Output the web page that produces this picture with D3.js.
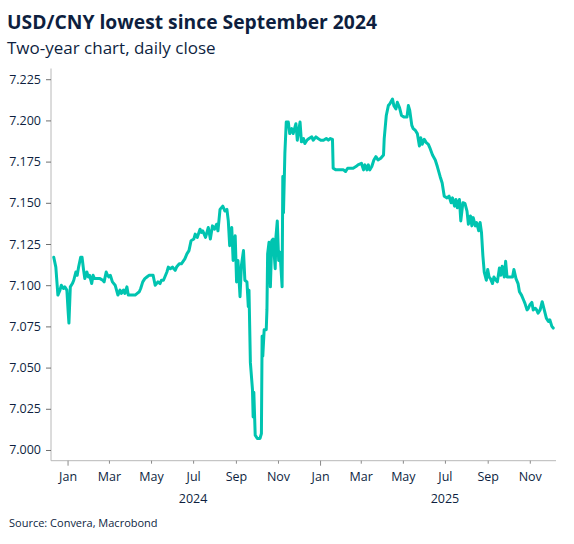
<!DOCTYPE html>
<html>
<head>
<meta charset="utf-8">
<script src="https://cdn.jsdelivr.net/npm/d3@7"></script>
<style>
  body { margin: 0; background: #fff; }
  svg text { font-family: "Open Sans", "Noto Sans", sans-serif; }
</style>
</head>
<body>
<div id="chart"></div>
<script>
var width = 574, height = 544;

// daily close
var dates = [
  "2023-12-12","2023-12-15","2023-12-18","2023-12-21","2023-12-23","2023-12-26","2023-12-28","2023-12-31",
  "2024-01-02","2024-01-03","2024-01-05","2024-01-08","2024-01-10","2024-01-13","2024-01-15","2024-01-17",
  "2024-01-20","2024-01-22","2024-01-24","2024-01-26","2024-01-29","2024-01-31","2024-02-02","2024-02-05",
  "2024-02-07","2024-02-09","2024-02-14","2024-02-17","2024-02-21","2024-02-23","2024-02-26","2024-02-28",
  "2024-03-01","2024-03-03","2024-03-06","2024-03-10","2024-03-12","2024-03-14","2024-03-17","2024-03-19",
  "2024-03-22","2024-03-24","2024-03-27","2024-03-29","2024-04-03","2024-04-08","2024-04-11","2024-04-14",
  "2024-04-16","2024-04-19","2024-04-22","2024-04-25","2024-04-28","2024-05-02","2024-05-04","2024-05-07",
  "2024-05-09","2024-05-11","2024-05-14","2024-05-16","2024-05-19","2024-05-21","2024-05-24","2024-05-26",
  "2024-05-29","2024-06-01","2024-06-05","2024-06-07","2024-06-11","2024-06-14","2024-06-19","2024-06-22",
  "2024-06-25","2024-06-28","2024-07-02","2024-07-04","2024-07-07","2024-07-11","2024-07-13","2024-07-15",
  "2024-07-19","2024-07-23","2024-07-26","2024-07-29","2024-08-01","2024-08-04","2024-08-06","2024-08-09",
  "2024-08-13","2024-08-16","2024-08-19","2024-08-21","2024-08-23","2024-08-26","2024-08-28","2024-08-31",
  "2024-09-02","2024-09-04","2024-09-07","2024-09-09","2024-09-12","2024-09-14","2024-09-17","2024-09-19",
  "2024-09-20","2024-09-22","2024-09-25","2024-09-26","2024-09-27","2024-09-29","2024-10-02","2024-10-06",
  "2024-10-08","2024-10-09","2024-10-10","2024-10-12","2024-10-15","2024-10-16","2024-10-17","2024-10-19",
  "2024-10-21","2024-10-23","2024-10-25","2024-10-28","2024-10-29","2024-10-31","2024-11-02","2024-11-04",
  "2024-11-07","2024-11-08","2024-11-09","2024-11-11","2024-11-13","2024-11-16","2024-11-18","2024-11-21",
  "2024-11-23","2024-11-27","2024-11-29","2024-12-03","2024-12-05","2024-12-08","2024-12-10","2024-12-13",
  "2024-12-16","2024-12-20","2024-12-22","2024-12-26","2024-12-29","2025-01-02","2025-01-06","2025-01-10",
  "2025-01-13","2025-01-16","2025-01-19","2025-01-20","2025-01-24","2025-01-29","2025-02-04","2025-02-07",
  "2025-02-10","2025-02-13","2025-02-18","2025-02-22","2025-02-25","2025-03-02","2025-03-05","2025-03-07",
  "2025-03-10","2025-03-12","2025-03-14","2025-03-17","2025-03-20","2025-03-23","2025-03-26","2025-03-30",
  "2025-04-03","2025-04-04","2025-04-07","2025-04-10","2025-04-12","2025-04-16","2025-04-18","2025-04-21",
  "2025-04-23","2025-04-26","2025-04-29","2025-05-03","2025-05-07","2025-05-09","2025-05-11","2025-05-14",
  "2025-05-16","2025-05-19","2025-05-22","2025-05-25","2025-05-27","2025-05-29","2025-06-01","2025-06-04",
  "2025-06-07","2025-06-09","2025-06-13","2025-06-17","2025-06-20","2025-06-24","2025-06-27","2025-06-30",
  "2025-07-04","2025-07-07","2025-07-10","2025-07-12","2025-07-15","2025-07-17","2025-07-19","2025-07-22",
  "2025-07-24","2025-07-27","2025-07-30","2025-08-02","2025-08-04","2025-08-07","2025-08-09","2025-08-11",
  "2025-08-14","2025-08-16","2025-08-19","2025-08-21","2025-08-23","2025-08-25","2025-08-27","2025-08-30",
  "2025-09-01","2025-09-03","2025-09-05","2025-09-08","2025-09-10","2025-09-13","2025-09-15","2025-09-18",
  "2025-09-20","2025-09-22","2025-09-25","2025-09-27","2025-09-29","2025-10-03","2025-10-07","2025-10-09",
  "2025-10-12","2025-10-15","2025-10-17","2025-10-20","2025-10-23","2025-10-25","2025-10-28","2025-10-30",
  "2025-11-01","2025-11-04","2025-11-06","2025-11-09","2025-11-11","2025-11-13","2025-11-16","2025-11-19",
  "2025-11-22","2025-11-25","2025-11-28","2025-11-30","2025-12-03","2025-12-05"
];

var usdcny = [
  7.117,7.111,7.094,7.097,7.100,7.098,7.099,7.097,
  7.083,7.077,7.099,7.101,7.103,7.108,7.106,7.111,
  7.117,7.117,7.110,7.104,7.108,7.105,7.106,7.101,
  7.106,7.104,7.104,7.104,7.103,7.102,7.108,7.106,
  7.105,7.106,7.102,7.100,7.097,7.094,7.097,7.095,
  7.097,7.095,7.099,7.094,7.094,7.094,7.095,7.096,
  7.098,7.102,7.104,7.105,7.106,7.106,7.106,7.100,
  7.101,7.102,7.101,7.103,7.103,7.105,7.108,7.111,
  7.110,7.111,7.109,7.111,7.113,7.113,7.116,7.119,
  7.121,7.127,7.128,7.131,7.129,7.134,7.132,7.133,
  7.129,7.135,7.128,7.136,7.134,7.137,7.133,7.146,
  7.148,7.145,7.146,7.139,7.124,7.135,7.115,7.130,
  7.102,7.115,7.093,7.112,7.121,7.103,7.102,7.087,
  7.097,7.053,7.037,7.020,7.035,7.009,7.007,7.007,
  7.010,7.069,7.057,7.073,7.073,7.085,7.119,7.126,
  7.099,7.127,7.128,7.110,7.129,7.139,7.115,7.120,
  7.099,7.166,7.144,7.180,7.199,7.199,7.192,7.195,
  7.192,7.198,7.188,7.199,7.187,7.189,7.186,7.188,
  7.189,7.190,7.188,7.190,7.189,7.188,7.188,7.189,
  7.188,7.189,7.1885,7.171,7.170,7.170,7.170,7.169,
  7.171,7.171,7.171,7.172,7.173,7.174,7.170,7.173,
  7.170,7.173,7.170,7.172,7.176,7.178,7.176,7.177,
  7.179,7.189,7.203,7.209,7.210,7.213,7.209,7.207,
  7.211,7.208,7.203,7.202,7.202,7.209,7.206,7.197,
  7.195,7.194,7.192,7.1845,7.1895,7.1855,7.1885,7.1865,
  7.1855,7.1835,7.179,7.176,7.172,7.166,7.162,7.154,
  7.153,7.154,7.150,7.153,7.148,7.152,7.147,7.152,
  7.139,7.150,7.1496,7.145,7.137,7.142,7.136,7.141,
  7.136,7.138,7.133,7.138,7.132,7.118,7.108,7.103,
  7.1095,7.105,7.104,7.101,7.105,7.103,7.102,7.1105,
  7.106,7.1115,7.105,7.1145,7.105,7.105,7.105,7.1095,
  7.104,7.101,7.096,7.094,7.091,7.089,7.085,7.086,
  7.088,7.0896,7.085,7.086,7.085,7.083,7.085,7.090,
  7.085,7.080,7.078,7.079,7.075,7.074
];

var yTicks = [7.000, 7.025, 7.050, 7.075, 7.100, 7.125, 7.150, 7.175, 7.200, 7.225];
var monthTicks = ["2024-01-01","2024-03-01","2024-05-01","2024-07-01","2024-09-01","2024-11-01",
                  "2025-01-01","2025-03-01","2025-05-01","2025-07-01","2025-09-01","2025-11-01"];
var yearLabels = ["2024", "2025"];
var yearMid = ["2024-07-01", "2025-07-01"];

var parse = d3.timeParse("%Y-%m-%d");
var data = dates.map(function(d, i){ return {date: parse(d), value: usdcny[i]}; });

var x = d3.scaleTime()
  .domain([parse("2023-12-08"), parse("2025-12-09")])
  .range([51, 556]);
var y = d3.scaleLinear()
  .domain([6.9935, 7.2315])
  .range([460.7, 68.5]);

var svg = d3.select("#chart").append("svg")
  .attr("width", width)
  .attr("height", height);

var navy = "#0e1f3f";

svg.append("text")
  .attr("x", 7).attr("y", 29)
  .attr("font-size", "19.3px")
  .attr("font-weight", "bold")
  .attr("fill", navy)
  .text("USD/CNY lowest since September 2024");

svg.append("text")
  .attr("x", 7).attr("y", 54)
  .attr("font-size", "17px")
  .attr("fill", navy)
  .text("Two-year chart, daily close");

// y axis
var yAxis = svg.append("g")
  .attr("transform", "translate(51,0)")
  .call(d3.axisLeft(y).tickValues(yTicks).tickFormat(d3.format(".3f")).tickSize(5).tickPadding(5));
yAxis.select(".domain").attr("stroke", "#b8b8b8").attr("d", "M0," + y.range()[1] + "V" + y.range()[0]);
yAxis.selectAll(".tick line").attr("stroke", "#707070");
yAxis.selectAll(".tick text").attr("fill", navy).attr("font-size", "12.5px");

// x axis
var xAxis = svg.append("g")
  .attr("transform", "translate(0,460.7)")
  .call(d3.axisBottom(x).tickValues(monthTicks.map(parse)).tickFormat(d3.timeFormat("%b")).tickSize(3).tickPadding(8));
xAxis.select(".domain").attr("stroke", "#b8b8b8").attr("d", "M" + x.range()[0] + ",0H" + x.range()[1]);
xAxis.selectAll(".tick line").attr("stroke", "#8a8a8a")
  .attr("y2", function(d){ return d.getMonth() === 0 ? 5 : 3; });
xAxis.selectAll(".tick text").attr("fill", navy).attr("font-size", "12.5px");

svg.selectAll(".year")
  .data(yearLabels)
  .enter().append("text")
  .attr("class", "year")
  .attr("x", function(d, i){ return x(parse(yearMid[i])); })
  .attr("y", 503)
  .attr("text-anchor", "middle")
  .attr("font-size", "12.5px")
  .attr("fill", navy)
  .text(function(d){ return d; });

var line = d3.line()
  .x(function(d){ return x(d.date); })
  .y(function(d){ return y(d.value); });

svg.append("path")
  .datum(data)
  .attr("fill", "none")
  .attr("stroke", "#00c4b0")
  .attr("stroke-width", 3)
  .attr("stroke-linejoin", "round")
  .attr("stroke-linecap", "round")
  .attr("d", line);

svg.append("text")
  .attr("x", 9).attr("y", 527)
  .attr("font-size", "11px")
  .attr("fill", navy)
  .text("Source: Convera, Macrobond");
</script>
</body>
</html>
